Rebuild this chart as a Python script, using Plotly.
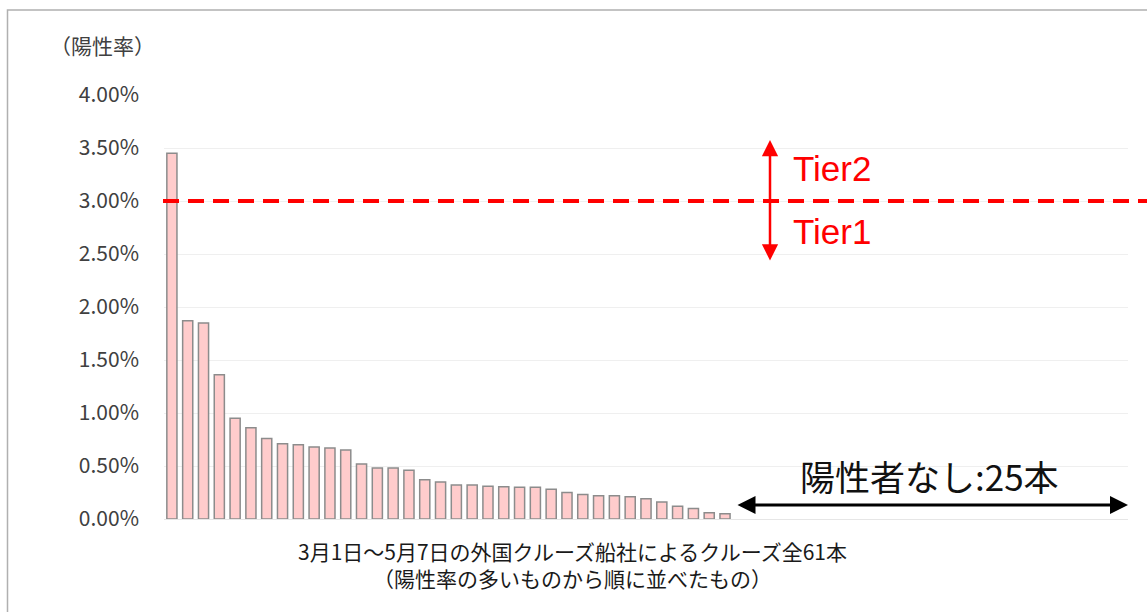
import plotly.graph_objects as go

# ---- data ----
positive_rates = [3.45, 1.87, 1.85, 1.36, 0.95, 0.86, 0.76, 0.71, 0.70, 0.68, 0.67, 0.65,
                  0.52, 0.48, 0.48, 0.46, 0.37, 0.35, 0.32, 0.32, 0.31, 0.305, 0.30, 0.30,
                  0.28, 0.25, 0.23, 0.22, 0.22, 0.21, 0.19, 0.16, 0.12, 0.10, 0.06, 0.05]
zero_count = 25
rates_pct = positive_rates + [0.0] * zero_count
cruise_ids = list(range(1, len(rates_pct) + 1))
threshold_pct = 3.0
y_ticks_pct = [0, 0.5, 1.0, 1.5, 2.0, 2.5, 3.0, 3.5, 4.0]

y_title = "（陽性率）"
x_title_line1 = "3月1日～5月7日の外国クルーズ船社によるクルーズ全61本"
x_title_line2 = "（陽性率の多いものから順に並べたもの）"
tier2_label = "Tier2"
tier1_label = "Tier1"
no_pos_label = "陽性者なし:25本"

# ---- layout constants ----
W, H = 1147, 612
ML, MR, MT, MB = 164, 19, 95, 93
PW = W - ML - MR
PH = H - MT - MB
JP = "Noto Sans CJK JP, Noto Sans, sans-serif"
AR = "Liberation Sans, Arial, sans-serif"

def px_to_paper_x(px):
    return (px - ML) / PW

def px_to_paper_y(py):
    return (H - MB - py) / PH

rates = [v / 100 for v in rates_pct]
outline_widths = [1.5 if v > 0 else 0 for v in rates]

fig = go.Figure()
fig.add_trace(go.Bar(
    x=cruise_ids, y=rates,
    marker=dict(color="#ffcccc", line=dict(color="#8c8c8c", width=outline_widths)),
    width=0.64,
    hoverinfo="skip",
))

fig.update_layout(
    width=W, height=H,
    margin=dict(l=ML, r=MR, t=MT, b=MB),
    paper_bgcolor="white", plot_bgcolor="white",
    showlegend=False,
    xaxis=dict(range=[0.5, len(rates) + 0.5], showticklabels=False, showgrid=False,
               zeroline=False, showline=False, ticks=""),
    yaxis=dict(range=[0, 0.04], tickvals=[v / 100 for v in y_ticks_pct], tickformat=".2%",
               showgrid=True, gridcolor="#efefef", gridwidth=1, zeroline=True,
               zerolinecolor="#e6e6e6", zerolinewidth=1, showline=False,
               ticklabelstandoff=24,
               tickfont=dict(family=JP, size=21, color="#404040")),
)

shapes = []
# outer border (only top and left visible in frame)
shapes.append(dict(type="rect", xref="paper", yref="paper",
                   x0=px_to_paper_x(7.5), x1=px_to_paper_x(W + 5),
                   y0=px_to_paper_y(H + 5), y1=px_to_paper_y(10),
                   line=dict(color="#b0b0b0", width=1.5), fillcolor="rgba(0,0,0,0)", layer="below"))
# threshold dashed line
shapes.append(dict(type="line", xref="paper", yref="y",
                   x0=px_to_paper_x(163), x1=px_to_paper_x(W),
                   y0=threshold_pct / 100, y1=threshold_pct / 100,
                   line=dict(color="#ff0000", width=4, dash="16px,9px")))
fig.update_layout(shapes=shapes)

ann = []
ann.append(dict(text=y_title, xref="paper", yref="paper", x=px_to_paper_x(102), y=px_to_paper_y(45),
                showarrow=False, font=dict(family=JP, size=21, color="#404040"),
                xanchor="center", yanchor="middle"))
ann.append(dict(text=x_title_line1 + "<br>" + x_title_line2, xref="paper", yref="paper",
                x=px_to_paper_x(572), y=px_to_paper_y(564), showarrow=False,
                font=dict(family=JP, size=21, color="#1a1a1a"), xanchor="center", yanchor="middle",
                align="center"))
# red double arrow
arrow_x = px_to_paper_x(770)
ann.append(dict(xref="x domain", yref="y domain", x=arrow_x, y=px_to_paper_y(140),
                axref="x domain", ayref="y domain", ax=arrow_x, ay=px_to_paper_y(262), text="",
                showarrow=True, arrowhead=2, startarrowhead=2, arrowside="end+start",
                arrowsize=1.3, startarrowsize=1.3, arrowwidth=2.5, arrowcolor="#ff0000"))
ann.append(dict(text=tier2_label, xref="paper", yref="paper", x=px_to_paper_x(791), y=px_to_paper_y(168),
                showarrow=False, font=dict(family=AR, size=35, color="#ff0000"),
                xanchor="left", yanchor="middle"))
ann.append(dict(text=tier1_label, xref="paper", yref="paper", x=px_to_paper_x(791), y=px_to_paper_y(231),
                showarrow=False, font=dict(family=AR, size=35, color="#ff0000"),
                xanchor="left", yanchor="middle"))
# black double arrow
ann.append(dict(xref="x domain", yref="y domain", x=px_to_paper_x(1128), y=px_to_paper_y(505),
                axref="x domain", ayref="y domain", ax=px_to_paper_x(736), ay=px_to_paper_y(505), text="",
                showarrow=True, arrowhead=2, startarrowhead=2, arrowside="end+start",
                arrowsize=1.2, startarrowsize=1.2, arrowwidth=3, arrowcolor="#000000"))
ann.append(dict(text=no_pos_label, xref="paper", yref="paper", x=px_to_paper_x(929), y=px_to_paper_y(475),
                showarrow=False, font=dict(family=JP, size=35, color="#111111"),
                xanchor="center", yanchor="middle"))
fig.update_layout(annotations=ann)

fig.write_html("out.html", config={"displayModeBar": False},
               post_script="document.body.style.margin='0px';")
